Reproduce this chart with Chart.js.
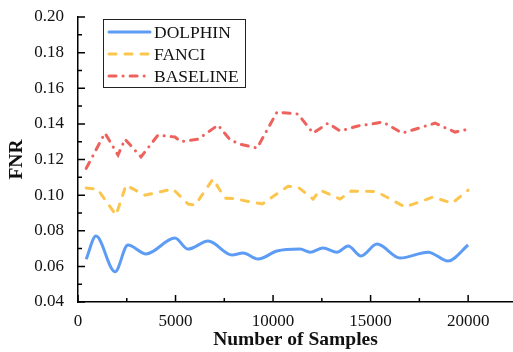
<!DOCTYPE html>
<html>
<head>
<meta charset="utf-8">
<script src="https://cdn.jsdelivr.net/npm/chart.js@4.4.1/dist/chart.umd.min.js"></script>
<style>
  html, body { margin: 0; padding: 0; background: #fff; }
  #wrap { width: 513px; height: 352px; }
</style>
</head>
<body>
<div id="wrap"><canvas id="fnrChart" width="513" height="352"></canvas></div>
<script>
// values
const seriesNames = ['DOLPHIN', 'FANCI', 'BASELINE'];

const dolphinX = [420, 920, 1900, 2560, 3490, 4970, 5640, 6670, 7900, 8460, 9230, 10200, 11380, 11900, 12560, 13280, 13850, 14510, 15330, 16510, 17950, 18970, 20000];
const dolphinY = [0.064, 0.077, 0.057, 0.072, 0.067, 0.0759, 0.0697, 0.0742, 0.0664, 0.0675, 0.0641, 0.0686, 0.0697, 0.068, 0.0703, 0.068, 0.0714, 0.0658, 0.0725, 0.0647, 0.068, 0.063, 0.072];

const fanciX = [420, 1000, 1950, 2460, 3430, 4870, 5640, 6000, 6920, 7540, 8000, 9440, 10770, 11280, 12050, 12410, 13440, 14000, 15300, 16770, 18200, 19180, 20000];
const fanciY = [0.104, 0.1034, 0.0888, 0.1056, 0.100, 0.1034, 0.095, 0.0944, 0.109, 0.0983, 0.098, 0.095, 0.105, 0.1045, 0.0978, 0.1028, 0.0978, 0.1023, 0.102, 0.0933, 0.0989, 0.0955, 0.1028];

const baselineX = [420, 1000, 1380, 2050, 2410, 3230, 4100, 4970, 5280, 6150, 7180, 7800, 8310, 9180, 10200, 11280, 12050, 12820, 13440, 14300, 15640, 16620, 18300, 19330, 20000];
const baselineY = [0.115, 0.127, 0.1348, 0.1225, 0.1314, 0.1214, 0.1337, 0.1326, 0.130, 0.1314, 0.1393, 0.131, 0.1286, 0.1264, 0.1466, 0.1455, 0.1348, 0.1404, 0.136, 0.1387, 0.141, 0.1348, 0.1404, 0.1354, 0.137];

const xTicks = [0, 5000, 10000, 15000, 20000];
const xMinorTicks = [2500, 7500, 12500, 17500];
const yTicks = [0.04, 0.06, 0.08, 0.10, 0.12, 0.14, 0.16, 0.18, 0.20];
const yMinorTicks = [0.05, 0.07, 0.09, 0.11, 0.13, 0.15, 0.17, 0.19];

const toPoints = (xs, ys) => xs.map((x, i) => ({ x: x, y: ys[i] }));

const serif = '"Liberation Serif", "DejaVu Serif", serif';

// inward tick marks, like the original plot
const innerTicks = {
    id: 'innerTicks',
    afterDatasetsDraw(chart) {
        const c = chart.ctx;
        const xs = chart.scales.x, ys = chart.scales.y;
        const left = chart.chartArea.left, bottom = chart.chartArea.bottom;
        c.save();
        c.strokeStyle = '#000';
        c.lineWidth = 1.5;
        c.beginPath();
        xTicks.forEach(v => { const p = xs.getPixelForValue(v); c.moveTo(p, bottom); c.lineTo(p, bottom - 7); });
        xMinorTicks.forEach(v => { const p = xs.getPixelForValue(v); c.moveTo(p, bottom); c.lineTo(p, bottom - 4); });
        yTicks.forEach(v => { const p = ys.getPixelForValue(v); c.moveTo(left, p); c.lineTo(left + 7, p); });
        yMinorTicks.forEach(v => { const p = ys.getPixelForValue(v); c.moveTo(left, p); c.lineTo(left + 4, p); });
        c.stroke();
        c.restore();
    }
};

// boxed legend in the top left of the plot
const boxLegend = {
    id: 'boxLegend',
    afterDraw(chart) {
        const c = chart.ctx;
        const bx = chart.chartArea.left + 25, by = chart.chartArea.top + 2;
        const bw = 142, bh = 68;
        c.save();
        c.fillStyle = '#fff';
        c.fillRect(bx, by, bw, bh);
        c.strokeStyle = '#222';
        c.lineWidth = 1;
        c.strokeRect(bx + 0.5, by + 0.5, bw, bh);
        chart.data.datasets.forEach((ds, i) => {
            const ry = by + 13 + i * 22;
            c.strokeStyle = ds.borderColor;
            c.lineWidth = ds.borderWidth;
            c.lineCap = 'round';
            c.setLineDash(ds.borderDash || []);
            c.beginPath();
            c.moveTo(bx + 6, ry);
            c.lineTo(bx + 47, ry);
            c.stroke();
            c.setLineDash([]);
            c.fillStyle = '#111';
            c.font = '17.5px ' + serif;
            c.textBaseline = 'middle';
            c.fillText(ds.label, bx + 51, ry + 1);
        });
        c.restore();
    }
};

new Chart(document.getElementById('fnrChart'), {
    type: 'line',
    data: {
        datasets: [{
            label: seriesNames[0],
            data: toPoints(dolphinX, dolphinY),
            borderColor: '#5d9cf4',
            borderWidth: 3,
            cubicInterpolationMode: 'monotone',
            pointRadius: 0
        }, {
            label: seriesNames[1],
            data: toPoints(fanciX, fanciY),
            borderColor: '#fcc54d',
            borderWidth: 3,
            borderDash: [7, 9],
            borderCapStyle: 'round',
            tension: 0,
            pointRadius: 0
        }, {
            label: seriesNames[2],
            data: toPoints(baselineX, baselineY),
            borderColor: '#ee625d',
            borderWidth: 3,
            borderDash: [7, 7, 0.1, 7],
            borderCapStyle: 'round',
            tension: 0,
            pointRadius: 0
        }]
    },
    options: {
        responsive: false,
        animation: false,
        layout: { padding: { top: 17, right: 0, bottom: 0, left: 0 } },
        plugins: {
            legend: { display: false },
            tooltip: { enabled: false }
        },
        scales: {
            x: {
                type: 'linear',
                min: 0,
                max: 22300,
                afterBuildTicks: s => { s.ticks = xTicks.map(v => ({ value: v })); },
                afterFit: s => { s.height = 50; },
                grid: { display: false },
                border: { display: true, color: '#000', width: 1.5 },
                ticks: {
                    color: '#111',
                    font: { family: serif, size: 17 },
                    padding: 1,
                    maxRotation: 0,
                    callback: v => String(v)
                },
                title: {
                    display: true,
                    text: 'Number of Samples',
                    color: '#111',
                    font: { family: serif, size: 19.5, weight: 'bold' },
                    padding: { top: 0, bottom: 0 }
                }
            },
            y: {
                min: 0.04,
                max: 0.20,
                afterBuildTicks: s => { s.ticks = yTicks.map(v => ({ value: v })); },
                afterFit: s => { s.width = 78; },
                grid: { display: false },
                border: { display: true, color: '#000', width: 1.5 },
                ticks: {
                    color: '#111',
                    font: { family: serif, size: 17 },
                    padding: 6,
                    callback: v => v.toFixed(2)
                },
                title: {
                    display: true,
                    text: 'FNR',
                    color: '#111',
                    font: { family: serif, size: 19.5, weight: 'bold' },
                    padding: { top: 5, bottom: 0 }
                }
            }
        }
    },
    plugins: [innerTicks, boxLegend]
});
</script>
</body>
</html>
